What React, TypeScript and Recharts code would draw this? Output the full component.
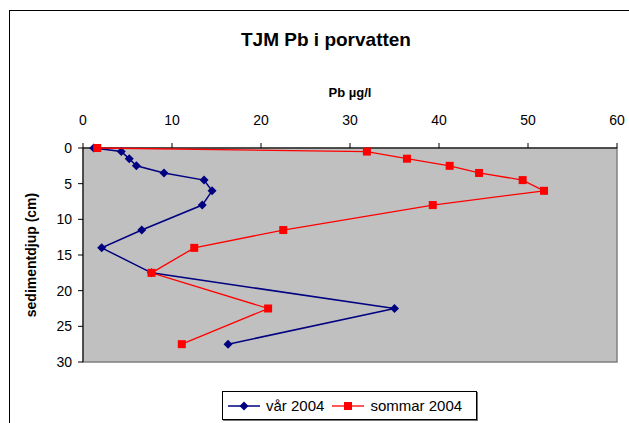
import React from 'react';
import {
  ScatterChart,
  Scatter,
  XAxis,
  YAxis,
  ZAxis,
  ReferenceArea,
  Label,
} from 'recharts';

// sediment depth (cm) for each sample, same for both seasons
const depths = [0, 0.5, 1.5, 2.5, 3.5, 4.5, 6, 8, 11.5, 14, 17.5, 22.5, 27.5];
// Pb in pore water (µg/l)
const var2004 = [1.2, 4.3, 5.2, 6.0, 9.1, 13.6, 14.5, 13.4, 6.6, 2.1, 7.7, 35.0, 16.3];
const sommar2004 = [1.6, 31.9, 36.4, 41.2, 44.5, 49.4, 51.8, 39.3, 22.5, 12.5, 7.7, 20.8, 11.1];

const pbTicks = [0, 10, 20, 30, 40, 50, 60];
const depthTicks = [0, 5, 10, 15, 20, 25, 30];

const toPoints = (values: number[]) =>
  values.map((pb, i) => ({pb, depth: depths[i]}));

const FONT = '"Liberation Sans", Arial, sans-serif';
const BLUE = '#000080';
const RED = '#FF0000';

const Diamond = (props: any) => {
  const {cx, cy, fill} = props;
  const r = 4.5;
  return (
    <polygon
      points={`${cx},${cy - r} ${cx + r},${cy} ${cx},${cy + r} ${cx - r},${cy}`}
      fill={fill}
    />
  );
};

const Square = (props: any) => {
  const {cx, cy, fill} = props;
  const r = 4;
  return <rect x={cx - r} y={cy - r} width={r * 2} height={r * 2} fill={fill} />;
};

const series = [
  {name: 'vår 2004', values: var2004, color: BLUE, shape: Diamond, width: 1.5},
  {name: 'sommar 2004', values: sommar2004, color: RED, shape: Square, width: 1.3},
];

const LegendBox = () => (
  <div
    style={{
      position: 'absolute',
      left: 222,
      top: 391,
      width: 255,
      height: 29,
      border: '1px solid #000',
      boxShadow: '1px 1px 0 #777',
      background: '#fff',
      display: 'flex',
      alignItems: 'center',
      fontFamily: FONT,
      fontSize: 15,
      boxSizing: 'border-box',
      paddingLeft: 5,
    }}
  >
    {series.map((s) => {
      const Shape = s.shape;
      return (
        <div key={s.name} style={{display: 'flex', alignItems: 'center', marginRight: 8}}>
          <svg width={32} height={12}>
            <line x1={0} y1={6} x2={32} y2={6} stroke={s.color} strokeWidth={s.width} />
            <Shape cx={16} cy={6} fill={s.color} />
          </svg>
          <span style={{marginLeft: 6}}>{s.name}</span>
        </div>
      );
    })}
  </div>
);

export default function App() {
  return (
    <div
      style={{
        position: 'absolute',
        left: 0,
        top: 0,
        width: 629,
        height: 423,
        overflow: 'hidden',
        background: '#fff',
        fontFamily: FONT,
      }}
    >
      {/* chart frame, cut off at right and bottom */}
      <div
        style={{
          position: 'absolute',
          left: 9,
          top: 10,
          width: 700,
          height: 500,
          borderLeft: '1px solid #000',
          borderTop: '1px solid #000',
        }}
      />
      <div
        style={{
          position: 'absolute',
          left: 0,
          width: 652,
          top: 30,
          textAlign: 'center',
          fontSize: 19,
          fontWeight: 'bold',
          lineHeight: '20px',
        }}
      >
        TJM Pb i porvatten
      </div>
      <ScatterChart
        width={629}
        height={423}
        margin={{top: 108, right: 12, bottom: 61, left: 12}}
        style={{position: 'absolute', left: 0, top: 0}}
      >
        <ReferenceArea
          x1={0}
          x2={60}
          y1={0}
          y2={30}
          fill="#C0C0C0"
          fillOpacity={1}
          stroke="#808080"
          strokeWidth={1.5}
        />
        <XAxis
          type="number"
          dataKey="pb"
          orientation="top"
          domain={[0, 60]}
          ticks={pbTicks}
          height={40}
          tickSize={5}
          tickMargin={18}
          axisLine={{stroke: '#000'}}
          tickLine={{stroke: '#000'}}
          tick={{fill: '#000', fontSize: 14, fontFamily: FONT}}
        >
          <Label
            value="Pb µg/l"
            position="top"
            offset={11}
            style={{fontSize: 13, fontWeight: 'bold', fill: '#000', fontFamily: FONT}}
          />
        </XAxis>
        <YAxis
          type="number"
          dataKey="depth"
          reversed
          domain={[0, 30]}
          ticks={depthTicks}
          width={71}
          tickSize={5}
          tickMargin={6}
          axisLine={{stroke: '#000'}}
          tickLine={{stroke: '#000'}}
          tick={{fill: '#000', fontSize: 14, fontFamily: FONT}}
        >
          <Label
            value="sedimentdjup (cm)"
            angle={-90}
            position="insideLeft"
            offset={25}
            dx={-6}
            style={{
              textAnchor: 'middle',
              fontSize: 14,
              fontWeight: 'bold',
              fill: '#000',
              fontFamily: FONT,
            }}
          />
        </YAxis>
        <ZAxis range={[60, 60]} />
        {series.map((s) => (
          <Scatter
            key={s.name}
            name={s.name}
            data={toPoints(s.values)}
            fill={s.color}
            line={{stroke: s.color, strokeWidth: s.width}}
            lineType="joint"
            shape={s.shape}
            isAnimationActive={false}
          />
        ))}
      </ScatterChart>
      <LegendBox />
    </div>
  );
}
